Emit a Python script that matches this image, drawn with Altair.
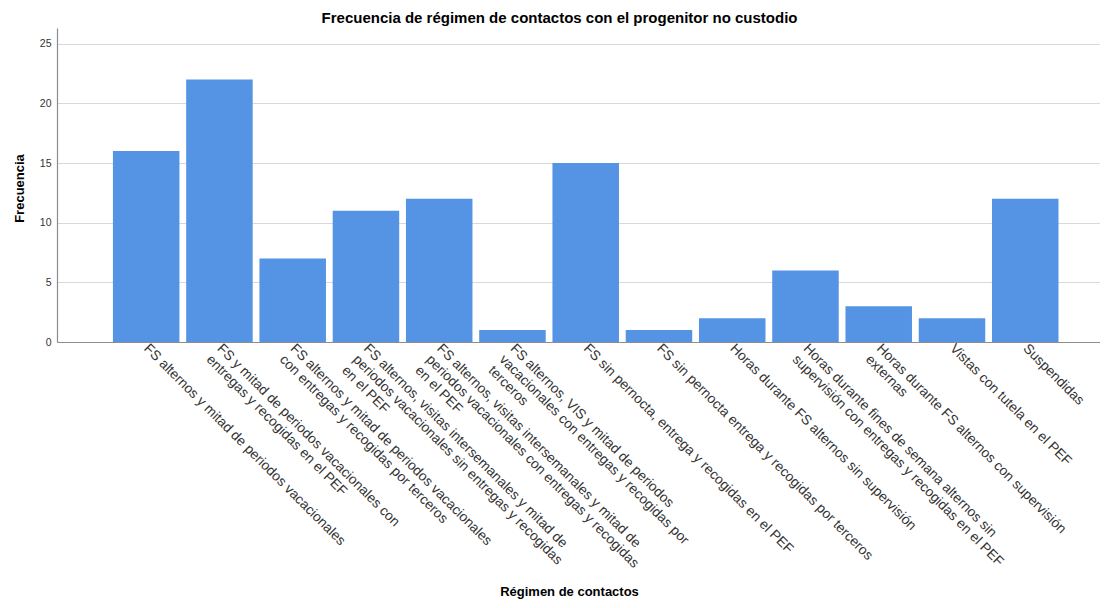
import altair as alt
import pandas as pd

categorias = [
    "FS alternos y mitad de periodos vacacionales",
    "FS y mitad de periodos vacacionales con\nentregas y recogidas en el PEF",
    "FS alternos y mitad de periodos vacacionales\ncon entregas y recogidas por terceros",
    "FS alternos, visitas intersemanales y mitad de\nperiodos vacacionales sin entregas y recogidas\nen el PEF",
    "FS alternos, visitas intersemanales y mitad de\nperiodos vacacionales con entregas y recogidas\nen el PEF",
    "FS alternos, VIS y mitad de periodos\nvacacionales con  entregas y recogidas por\nterceros",
    "FS sin pernocta, entrega y recogidas en el PEF",
    "FS sin pernocta entrega y recogidas por terceros",
    "Horas durante FS alternos sin supervisión",
    "Horas durante fines de semana alternos sin\nsupervisión con  entregas y recogidas en el PEF",
    "Horas durante FS alternos con supervisión\nexternas",
    "Vistas con tutela en el PEF",
    "Suspendidas",
]
frecuencias = [16, 22, 7, 11, 12, 1, 15, 1, 2, 6, 3, 2, 12]
y_ticks = [0, 5, 10, 15, 20, 25]

df = pd.DataFrame({"Regimen": categorias, "Frecuencia": frecuencias})

FONT = "Liberation Sans"

bars = alt.Chart(
    df,
    title=alt.TitleParams(
        "Frecuencia de régimen de contactos con el progenitor no custodio",
        fontSize=15, fontWeight="bold", font=FONT, color="#000000",
        anchor="middle", frame="group", dx=-19, dy=15, offset=5, baseline="alphabetic",
    ),
).mark_bar(color="#5593e4").encode(
    x=alt.X(
        "Regimen:N",
        sort=None,
        scale=alt.Scale(paddingInner=0.092, paddingOuter=0.665, align=0.574),
        axis=alt.Axis(
            title="Régimen de contactos",
            titleFont=FONT, titleFontSize=13, titleFontWeight="bold", titleColor="#000000",
            titleX=512, titleY=253, titleBaseline="alphabetic", titleAnchor="middle",
            labelAngle=45, labelAlign="left", labelBaseline="middle",
            labelExpr="split(datum.label, '\\n')",
            labelLimit=600, labelFontSize=13.8, labelLineHeight=15.5,
            labelFont=FONT, labelColor="#333333", labelPadding=4,
            labelOverlap=False, ticks=False, grid=False,
            domainColor="#8c8c8c", domainWidth=1.2,
        ),
    ),
    y=alt.Y(
        "Frecuencia:Q",
        scale=alt.Scale(domain=[0, 26.32], nice=False),
        axis=alt.Axis(
            title="Frecuencia", values=y_ticks,
            titleFont=FONT, titleFontSize=13, titleFontWeight="bold", titleColor="#000000",
            titleX=-38, titleY=160, titleBaseline="middle", titleAngle=270,
            labelFont=FONT, labelFontSize=10.5, labelColor="#333333", labelPadding=6,
            ticks=False, grid=True, gridColor="#d9d9d9", gridWidth=1.2,
            domainColor="#8c8c8c", domainWidth=1.2,
        ),
    ),
).properties(
    width=1043,
    height=314,
    padding={"left": 49, "top": 20, "right": 0, "bottom": 258},
    autosize=alt.AutoSizeParams(type="none"),
).configure_view(stroke=None)

chart = bars
chart.save("out.html", embed_options={"renderer": "svg", "actions": False})
